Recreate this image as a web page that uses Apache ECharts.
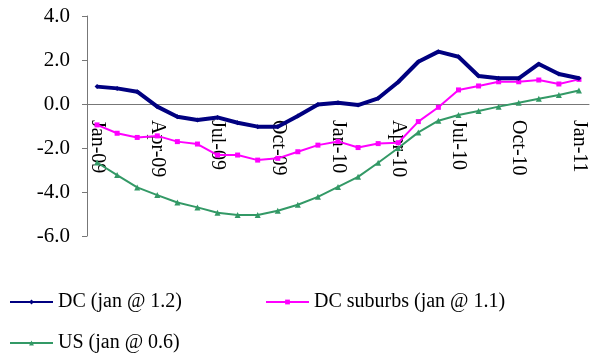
<!DOCTYPE html>
<html><head><meta charset="utf-8">
<script src="https://cdn.jsdelivr.net/npm/echarts@6/dist/echarts.min.js"></script>
<style>html,body{margin:0;padding:0;background:#fff}#c{width:597px;height:355px}</style>
</head><body><div id="c"></div>
<script>
const categories = ['Jan-09','Feb-09','Mar-09','Apr-09','May-09','Jun-09','Jul-09','Aug-09','Sep-09','Oct-09','Nov-09','Dec-09',
  'Jan-10','Feb-10','Mar-10','Apr-10','May-10','Jun-10','Jul-10','Aug-10','Sep-10','Oct-10','Nov-10','Dec-10','Jan-11'];
const dc = [0.79,0.71,0.56,-0.12,-0.58,-0.73,-0.61,-0.85,-1.03,-1.03,-0.55,-0.02,0.06,-0.05,0.26,1.0,1.92,2.38,2.15,1.27,1.17,1.17,1.82,1.36,1.17];
const dcSuburbs = [-0.95,-1.33,-1.52,-1.45,-1.71,-1.82,-2.32,-2.32,-2.55,-2.47,-2.17,-1.87,-1.70,-1.98,-1.80,-1.76,-0.80,-0.15,0.64,0.82,1.01,1.01,1.09,0.91,1.12];
const us = [-2.66,-3.23,-3.79,-4.14,-4.48,-4.70,-4.94,-5.05,-5.05,-4.85,-4.58,-4.22,-3.77,-3.31,-2.67,-2.00,-1.29,-0.76,-0.50,-0.32,-0.12,0.06,0.24,0.41,0.61];
const seriesNames = ['DC (jan @ 1.2)','DC suburbs (jan @ 1.1)','US (jan @ 0.6)'];
const yMin = -6, yMax = 4;

const font = 'Liberation Serif';
const gridTop = 16, gridBottom = 119, H = 355;
const plotH = H - gridTop - gridBottom;
const zeroOffset = -plotH * (0 - yMin) / (yMax - yMin);
const chart = echarts.init(document.getElementById('c'));
const legendText = {fontFamily: font, fontSize: 20, color: '#000'};
chart.setOption({
  animation: false,
  grid: {left: 87, right: 8, top: gridTop, bottom: gridBottom},
  legend: [
    {data: [seriesNames[0]], left: 4, top: 287, itemWidth: 43, itemHeight: 6, itemGap: 5, textStyle: legendText},
    {data: [seriesNames[1]], left: 260, top: 287, itemWidth: 43, itemHeight: 6, textStyle: legendText},
    {data: [seriesNames[2]], left: 4, top: 328, itemWidth: 43, itemHeight: 6, textStyle: legendText}
  ],
  xAxis: {
    type: 'category', data: categories, boundaryGap: true, offset: zeroOffset,
    axisLine: {onZero: false, lineStyle: {color: '#777', width: 1}},
    axisTick: {interval: (i) => i % 3 === 0, length: 5, inside: false, lineStyle: {color: '#777'}},
    axisLabel: {interval: (i) => i % 3 === 0, rotate: -90, margin: 16, fontFamily: font, fontSize: 20, color: '#000'},
    splitLine: {show: false}
  },
  yAxis: {
    type: 'value', min: yMin, max: yMax, interval: 2,
    axisLine: {show: true, lineStyle: {color: '#777', width: 1}},
    axisTick: {show: true, length: 5, lineStyle: {color: '#777'}},
    axisLabel: {margin: 17, fontFamily: font, fontSize: 21, color: '#000', formatter: v => v.toFixed(1)},
    splitLine: {show: false}
  },
  series: [
    {name: seriesNames[0], type: 'line', data: dc, symbol: 'diamond', symbolSize: 5,
      lineStyle: {color: '#000080', width: 4}, itemStyle: {color: '#000080'}, z: 4},
    {name: seriesNames[1], type: 'line', data: dcSuburbs, symbol: 'rect', symbolSize: 5,
      lineStyle: {color: '#FF00FF', width: 2}, itemStyle: {color: '#FF00FF'}, z: 3},
    {name: seriesNames[2], type: 'line', data: us, symbol: 'triangle', symbolSize: 6,
      lineStyle: {color: '#339966', width: 2}, itemStyle: {color: '#339966'}, z: 2}
  ]
});
</script></body></html>
